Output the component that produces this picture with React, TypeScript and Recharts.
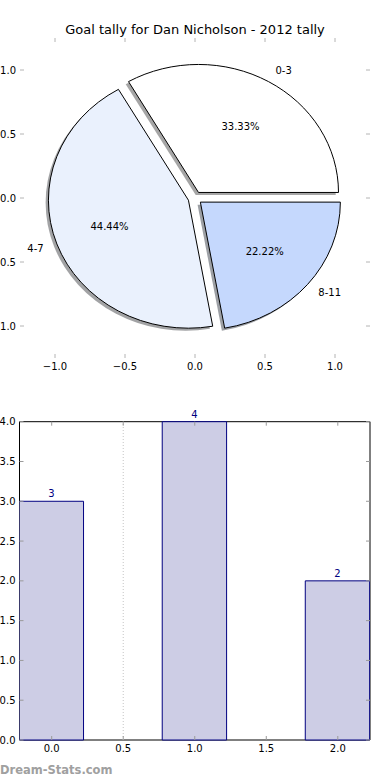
// App.tsx
// Goal tally – exploded pie (elliptical, matplotlib style) + bar chart of the same counts

import { ScatterChart, Scatter, PieChart, Pie, ComposedChart, Bar, XAxis, YAxis, ReferenceLine, ReferenceArea } from 'recharts'

// data
const groups = ['0-3', '4-7', '8-11']
const tallies = [3, 4, 2]
const barPositions = [0, 1, 2]
const pieColors = ['#ffffff', '#eaf1fd', '#c5d8fd']

// ticks
const pieTicks = [-1, -0.5, 0, 0.5, 1]
const barXTicks = [0, 0.5, 1, 1.5, 2]
const barYTicks = [0, 0.5, 1, 1.5, 2, 2.5, 3, 3.5, 4]

const FONT = '"DejaVu Sans", Verdana, sans-serif'
const W = 390

// pie axes box (px inside its chart)
const PIE_H = 380
const PIE = { left: 20, right: 370, top: 38, bottom: 358 }
const PIE_LIM = 1.25
const RX = (PIE.right - PIE.left) / (2 * PIE_LIM)
const RY = (PIE.bottom - PIE.top) / (2 * PIE_LIM)
const EXPLODE = 0.05

// bar axes box
const BAR_H = 400
const BAR = { left: 19.5, right: 370, top: 41.7, bottom: 360 }
const BAR_X = [-0.225, 2.225]
const BAR_WIDTH = 0.45

const fmt = (v: number) => (v < 0 ? '\u2212' + Math.abs(v).toFixed(1) : v.toFixed(1))

const pieData = groups.map((g, i) => ({ name: g, value: tallies[i], fill: pieColors[i] }))
const barData = barPositions.map((x, i) => ({ x, v: tallies[i] }))

const rad = Math.PI / 180

// ellipse wedge path, angles counter-clockwise in degrees
function wedge(cx: number, cy: number, a0: number, a1: number) {
  const x0 = cx + RX * Math.cos(a0 * rad)
  const y0 = cy - RY * Math.sin(a0 * rad)
  const x1 = cx + RX * Math.cos(a1 * rad)
  const y1 = cy - RY * Math.sin(a1 * rad)
  const large = Math.abs(a1 - a0) > 180 ? 1 : 0
  return `M${cx},${cy} L${x0},${y0} A${RX},${RY} 0 ${large} 0 ${x1},${y1} Z`
}

function shade(hex: string) {
  const n = parseInt(hex.slice(1), 16)
  const r = Math.round(((n >> 16) & 255) * 0.3)
  const g = Math.round(((n >> 8) & 255) * 0.3)
  const b = Math.round((n & 255) * 0.3)
  return `rgb(${r},${g},${b})`
}

const WedgeShape = (props: any) => {
  const { cx, cy, startAngle, endAngle, fill } = props
  const mid = (startAngle + endAngle) / 2
  const ox = cx + EXPLODE * RX * Math.cos(mid * rad)
  const oy = cy - EXPLODE * RY * Math.sin(mid * rad)
  return <path d={wedge(ox, oy, startAngle, endAngle)} fill={fill} stroke="#000" strokeWidth={1} />
}

const ShadowShape = (props: any) => {
  const { cx, cy, startAngle, endAngle, fill } = props
  const mid = (startAngle + endAngle) / 2
  const ox = cx + EXPLODE * RX * Math.cos(mid * rad) - 0.02 * RX
  const oy = cy - EXPLODE * RY * Math.sin(mid * rad) + 0.02 * RY
  return <path d={wedge(ox, oy, startAngle, endAngle)} fill={shade(fill)} fillOpacity={0.5} stroke="none" />
}

const renderPieLabel = (props: any) => {
  const { cx, cy, midAngle, percent, index } = props
  const c = Math.cos(midAngle * rad)
  const s = Math.sin(midAngle * rad)
  const lr = EXPLODE + 1.1
  const pr = EXPLODE + 0.6
  return (
    <g>
      <text
        x={cx + lr * RX * c}
        y={cy - lr * RY * s}
        dy={3.6}
        textAnchor={c >= 0 ? 'start' : 'end'}
        fontSize={10}
        fontFamily={FONT}
        fill="#000"
      >
        {groups[index]}
      </text>
      <text x={cx + pr * RX * c} y={cy - pr * RY * s} dy={3.6} textAnchor="middle" fontSize={10} fontFamily={FONT} fill="#000">
        {(percent * 100).toFixed(2)}%
      </text>
    </g>
  )
}

// inward ticks on both sides, matplotlib style
const makeXTick = (box: typeof PIE, color: string) => (props: any) => {
  const { x, payload } = props
  return (
    <g>
      <line x1={x} x2={x} y1={box.top} y2={box.top + 4} stroke={color} />
      <line x1={x} x2={x} y1={box.bottom - 4} y2={box.bottom} stroke={color} />
      <text x={x} y={box.bottom + 11.5} textAnchor="middle" fontSize={10} fontFamily={FONT} fill="#000">
        {fmt(payload.value)}
      </text>
    </g>
  )
}

const makeYTick = (box: typeof PIE, color: string) => (props: any) => {
  const { y, payload } = props
  return (
    <g>
      <line x1={box.left} x2={box.left + 4} y1={y} y2={y} stroke={color} />
      <line x1={box.right - 4} x2={box.right} y1={y} y2={y} stroke={color} />
      <text x={box.left - 4} y={y} dy={3.6} textAnchor="end" fontSize={10} fontFamily={FONT} fill="#000">
        {fmt(payload.value)}
      </text>
    </g>
  )
}

const pieXTick = makeXTick(PIE, '#b4b4b4')
const pieYTick = makeYTick(PIE, '#b4b4b4')
const barXTick = makeXTick(BAR, '#9a9a9a')
const barYTick = makeYTick(BAR, '#9a9a9a')

export default function App() {
  const barSize = (BAR_WIDTH * (BAR.right - BAR.left)) / (BAR_X[1] - BAR_X[0])

  return (
    <div style={{ position: 'absolute', left: 0, top: 0, width: W, height: 780, background: '#fff', overflow: 'hidden' }}>
      {/* 제목 */}
      <div
        style={{
          position: 'absolute', left: 0, top: 21, width: W, textAlign: 'center',
          fontFamily: FONT, fontSize: 13, lineHeight: '17px', color: '#000',
        }}
      >
        Goal tally for Dan Nicholson - 2012 tally
      </div>

      {/* pie 축 */}
      <div style={{ position: 'absolute', left: 0, top: 0 }}>
        <ScatterChart
          width={W}
          height={PIE_H}
          margin={{ top: PIE.top, right: W - PIE.right, bottom: 0, left: 0 }}
        >
          <XAxis type="number" dataKey="x" domain={[-PIE_LIM, PIE_LIM]} ticks={pieTicks} height={PIE_H - PIE.bottom}
            axisLine={false} tickLine={false} tick={pieXTick} interval={0} />
          <YAxis type="number" dataKey="y" domain={[-PIE_LIM, PIE_LIM]} ticks={pieTicks} width={PIE.left}
            axisLine={false} tickLine={false} tick={pieYTick} interval={0} />
          <Scatter data={[{ x: 0, y: 0 }]} fill="none" isAnimationActive={false} />
        </ScatterChart>
      </div>

      {/* pie */}
      <div style={{ position: 'absolute', left: 0, top: 0 }}>
        <PieChart width={W} height={PIE_H} margin={{ top: 0, right: 0, bottom: 0, left: 0 }}>
          <Pie data={pieData} dataKey="value" nameKey="name"
            cx={(PIE.left + PIE.right) / 2} cy={(PIE.top + PIE.bottom) / 2}
            outerRadius={RX} startAngle={0} endAngle={360}
            shape={ShadowShape} isAnimationActive={false} label={false} labelLine={false} />
          <Pie data={pieData} dataKey="value" nameKey="name"
            cx={(PIE.left + PIE.right) / 2} cy={(PIE.top + PIE.bottom) / 2}
            outerRadius={RX} startAngle={0} endAngle={360}
            shape={WedgeShape} isAnimationActive={false} label={renderPieLabel} labelLine={false} />
        </PieChart>
      </div>

      {/* bar */}
      <div style={{ position: 'absolute', left: 0, top: 380 }}>
        <ComposedChart
          width={W}
          height={BAR_H}
          data={barData}
          margin={{ top: BAR.top, right: W - BAR.right, bottom: 0, left: 0 }}
        >
          <XAxis type="number" dataKey="x" domain={BAR_X} ticks={barXTicks} height={BAR_H - BAR.bottom} allowDataOverflow
            axisLine={false} tickLine={false} tick={barXTick} interval={0} />
          <YAxis type="number" domain={[0, 4]} ticks={barYTicks} width={BAR.left}
            axisLine={false} tickLine={false} tick={barYTick} interval={0} />
          <ReferenceLine x={0.5} stroke="#c4c4c4" strokeDasharray="1 2" />
          <Bar dataKey="v" barSize={barSize} fill="#cdcde5" stroke="#000080" strokeWidth={1}
            isAnimationActive={false}
            label={{ position: 'top', offset: 4, fill: '#000080', fontSize: 10, fontFamily: FONT }} />
          <ReferenceArea x1={BAR_X[0]} x2={BAR_X[1]} y1={0} y2={4} fill="none" fillOpacity={0}
            stroke="#000" strokeWidth={1} ifOverflow="visible" />
        </ComposedChart>
      </div>

      <div
        style={{
          position: 'absolute', left: 0, top: 762, fontFamily: FONT, fontSize: 11.5,
          fontWeight: 'bold', color: '#a0a0a0', lineHeight: '16px',
        }}
      >
        Dream-Stats.com
      </div>
    </div>
  )
}
